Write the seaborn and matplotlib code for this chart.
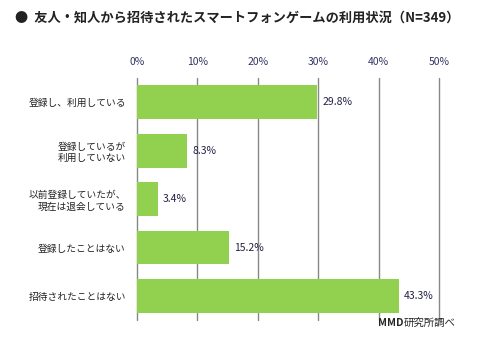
import numpy as np
import pandas as pd
import seaborn as sns
import matplotlib.pyplot as plt

categories = ["登録し、利用している", "登録しているが\n利用していない", "以前登録していたが、\n現在は退会している",
              "登録したことはない", "招待されたことはない"]
values = [29.8, 8.3, 3.4, 15.2, 43.3]
ticks = [0, 10, 20, 30, 40, 50]

sns.set_theme(style="white")
plt.rcParams['font.family'] = ['Noto Sans CJK JP', 'DejaVu Sans']

df = pd.DataFrame({"cat": categories, "val": values})

fig = plt.figure(figsize=(4.84, 3.53), dpi=100)
ax = fig.add_axes([0.283, 0.093, 0.624, 0.686])
sns.barplot(data=df, x="val", y="cat", color="#92D050", saturation=1, width=0.7,
            linewidth=0, ax=ax)

ax.set_xlim(0, 50)
ax.set_ylim(4.5, -0.5)
ax.set_xticks(ticks)
ax.set_xticklabels([f"{t}%" for t in ticks], fontsize=7.5, color="#333366")
ax.xaxis.tick_top()
ax.tick_params(axis="x", length=0, pad=8)
ax.tick_params(axis="y", length=0, pad=8, labelsize=7, labelcolor="#222222")
for t in ticks:
    ax.axvline(t, color="#888888", lw=1, zorder=0, clip_on=False)
for s in ax.spines.values():
    s.set_visible(False)
ax.set_xlabel("")
ax.set_ylabel("")

for i, v in enumerate(values):
    ax.text(v + 0.9, i, f"{v}%", va="center", ha="left", fontsize=7.5, color="#222244")

fig.text(0.03, 0.95, "●  友人・知人から招待されたスマートフォンゲームの利用状況（N=349）",
         fontsize=9.5, fontweight="bold", va="center", ha="left", color="#222222")
fig.text(0.78, 0.085, "MMD", fontsize=7.5, fontweight="bold", va="center", ha="left")
fig.text(0.835, 0.085, "研究所調べ", fontsize=7.5, va="center", ha="left")

fig.savefig("out.png", dpi=100)
